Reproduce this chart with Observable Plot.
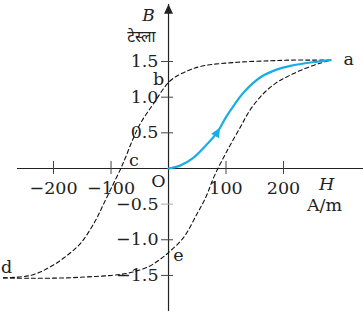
<!DOCTYPE html>
<html><head><meta charset="utf-8">
<script src="https://cdn.jsdelivr.net/npm/d3@7"></script>
<script src="https://cdn.jsdelivr.net/npm/@observablehq/plot@0.6"></script>
<style>html,body{margin:0;padding:0;background:#fff}svg{display:block}</style>
</head><body><div id="chart"></div>
<script>
// ---- data ----
const xTicks = [-200, -100, 100, 200];
const xTickLabels = ["−200", "−100", "100", "200"];
const yTicks = [1.5, 1.0, 0.5, -0.5, -1.0, -1.5];
const yTickLabels = ["1.5", "1.0", "0.5", "−0.5", "−1.0", "−1.5"];

// descending branch a → b → c → d
const upperH = [282, 250, 212, 177, 120, 61, 33, 3, -26, -49, -63, -75, -83, -98, -113, -127, -153, -183, -210, -240, -287];
const upperB = [1.52, 1.52, 1.52, 1.51, 1.49, 1.44, 1.37, 1.23, 0.91, 0.63, 0.39, 0.15, 0, -0.25, -0.5, -0.73, -1.05, -1.26, -1.40, -1.50, -1.535];
// ascending branch d → e → a
const lowerH = [-287, -240, -180, -140, -100, -66, -33, -14, 0, 26, 50, 65, 80, 102, 125, 141, 165, 189, 212, 240, 265, 282];
const lowerB = [-1.535, -1.54, -1.535, -1.52, -1.50, -1.46, -1.37, -1.27, -1.18, -0.97, -0.63, -0.40, -0.10, 0.25, 0.58, 0.81, 1.05, 1.21, 1.31, 1.41, 1.48, 1.52];
// initial magnetisation curve O → a
const initH = [0, 20, 43, 68, 85, 100, 115, 131, 160, 189, 212, 250, 282];
const initB = [0, 0.04, 0.15, 0.35, 0.51, 0.72, 0.90, 1.07, 1.28, 1.39, 1.44, 1.49, 1.52];

// labelled points
const pointNames = ["a", "b", "c", "d", "e", "O"];
const pointH = [282, 0, -83, -287, 0, 0];
const pointB = [1.52, 1.2, 0, -1.535, -1.18, 0];

const xLabel = "H", xUnit = "A/m", yLabel = "B", yUnit = "टेस्ला";

// ---- build tables ----
const zip = (H, B) => H.map((h, i) => ({H: h, B: B[i]}));
const upper = zip(upperH, upperB);
const lower = zip(lowerH, lowerB);
const init = zip(initH, initB);
const points = pointNames.map((n, i) => ({name: n, H: pointH[i], B: pointB[i]}));
const arrowAt = init[4];

const font = "DejaVu Serif, serif";
const ink = "#222";
const blue = "#19ade6";
const fs = 17.5;

const labelOffsets = {a: [18, -1], b: [-10, -4], c: [13, -8], d: [3, -11], e: [10, 3], O: [-10, 13]};

const arrowHead = {draw(ctx) { ctx.moveTo(0, -5); ctx.lineTo(4.5, 4.5); ctx.lineTo(-4.5, 4.5); ctx.closePath(); }};

const plot = Plot.plot({
  width: 363, height: 311,
  margin: 0,
  x: {domain: [-292.2, 339.1], axis: null},
  y: {domain: [-2.006, 2.356], axis: null},
  style: {fontFamily: font, fontSize: "16px", color: ink, background: "#fff"},
  marks: [
    // axes
    Plot.ruleY([0], {insetLeft: 17, stroke: ink, strokeWidth: 1.2}),
    Plot.ruleX([0], {insetTop: 4, stroke: ink, strokeWidth: 1.2}),
    Plot.dot([{H: 0, B: 2.235}], {x: "H", y: "B", symbol: arrowHead, fill: ink, stroke: "none"}),
    Plot.ruleY(yTicks, {y: d => d, x1: 0, x2: 0, insetLeft: -7, insetRight: -5, stroke: d => d === -0.5 ? "#aaa" : "#444", strokeWidth: 1}),
    Plot.ruleX(xTicks, {x: d => d, y1: 0, y2: 0, insetTop: -7, insetBottom: -6, stroke: "#444", strokeWidth: 1}),
    Plot.text(yTicks, {x: 0, y: d => d, text: (d, i) => yTickLabels[i], textAnchor: "end", dx: -10, fill: ink, fontSize: fs}),
    Plot.text(xTicks, {x: d => d, y: 0, text: (d, i) => xTickLabels[i], dy: 20, fill: ink, fontSize: fs}),
    // curves
    Plot.line(upper, {x: "H", y: "B", curve: "catmull-rom", stroke: "#111", strokeWidth: 1.1, strokeDasharray: "4,3"}),
    Plot.line(lower, {x: "H", y: "B", curve: "catmull-rom", stroke: "#111", strokeWidth: 1.1, strokeDasharray: "4,3"}),
    Plot.line(init, {x: "H", y: "B", curve: "catmull-rom", stroke: blue, strokeWidth: 2.2}),
    Plot.dot([arrowAt], {x: "H", y: "B", symbol: arrowHead, fill: blue, stroke: "none", rotate: 30}),
    // point labels
    ...points.map(p => Plot.text([p], {x: "H", y: "B", text: "name", fill: ink, fontSize: fs,
      dx: labelOffsets[p.name][0], dy: labelOffsets[p.name][1]})),
    // axis titles
    Plot.text([xLabel], {x: xTicks[3], y: 0, text: d => d, dx: 43, dy: 16, fontStyle: "italic", fontSize: fs, fill: ink}),
    Plot.text([xUnit], {x: xTicks[3], y: 0, text: d => d, dx: 41, dy: 37, fontSize: fs, fill: ink}),
    Plot.text([yLabel], {x: 0, y: yTicks[0], text: d => d, dx: -20, dy: -46, fontStyle: "italic", fontSize: 17, fill: ink}),
    Plot.text([yUnit], {x: 0, y: yTicks[0], text: d => d, dx: -13, dy: -24, textAnchor: "end", fontSize: 15.5, fill: ink, fontFamily: "Noto Sans, sans-serif"})
  ]
});

document.getElementById("chart").appendChild(plot);
</script>
</body></html>
